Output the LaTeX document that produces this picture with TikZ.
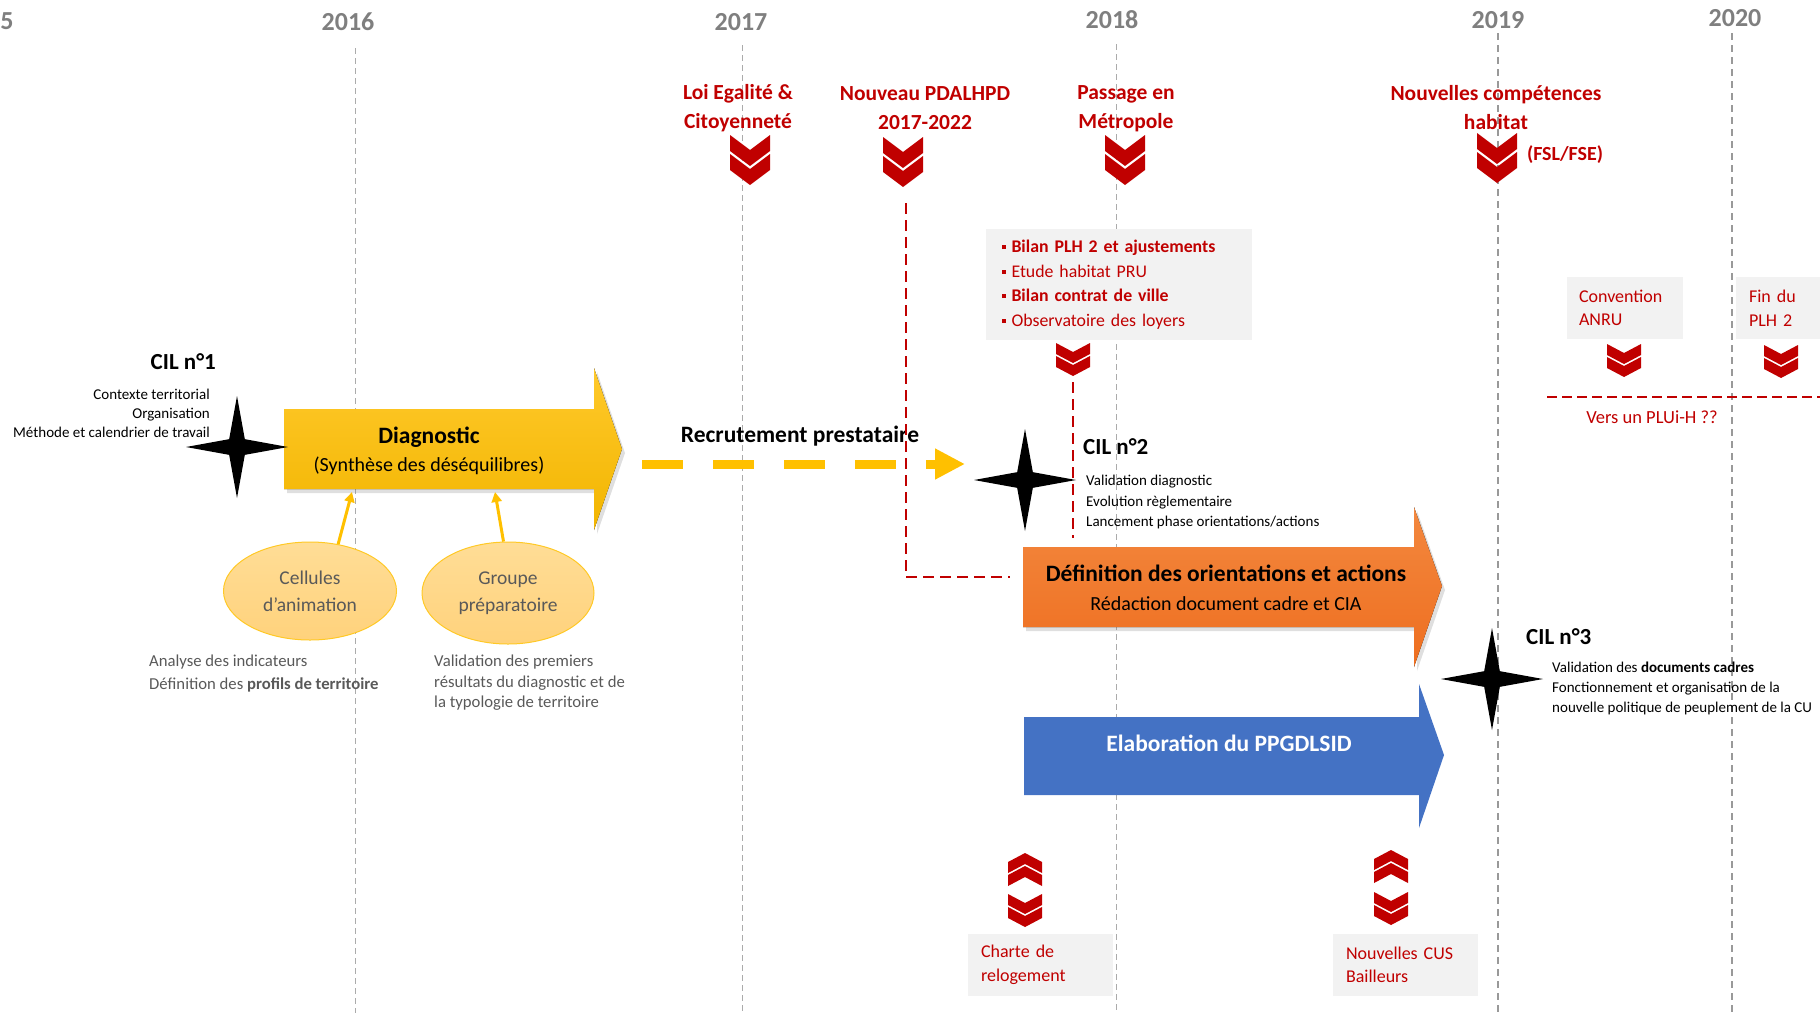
\documentclass[tikz,border=0pt]{standalone}
\usepackage{fontspec}
\setmainfont{Carlito}
\usetikzlibrary{shapes.geometric,arrows.meta,shadows}

\definecolor{darkred}{HTML}{C00000}
\definecolor{yeargray}{HTML}{7F7F7F}
\definecolor{linegray}{HTML}{ABABAB}
\definecolor{boxgray}{HTML}{F2F2F2}
\definecolor{textgray}{HTML}{595959}
\definecolor{diagyellow}{HTML}{FFC000}
\definecolor{diagtop}{HTML}{FFC92B}
\definecolor{diagbot}{HTML}{F2B500}
\definecolor{orienttop}{HTML}{F3883F}
\definecolor{orientbot}{HTML}{EE6E1F}
\definecolor{planblue}{HTML}{4472C4}
\definecolor{bubbletop}{HTML}{FFDD96}
\definecolor{bubblebot}{HTML}{FFD27C}

\newcommand{\fsz}[2]{\fontsize{#1}{#2}\selectfont}
\newcommand{\blt}{\rule[3.5pt]{4pt}{4pt}\hspace{6pt}}

\tikzset{yearline/.style={draw=linegray, line width=1pt, dash pattern=on 6pt off 4pt}}
\tikzset{redline/.style={draw=darkred, line width=2.5pt, dash pattern=on 11pt off 6pt}}
\tikzset{feed/.style={draw=diagyellow, line width=3pt, -{Triangle[length=10pt,width=10pt]}}}
\tikzset{recdash/.style={draw=diagyellow, line width=9pt, dash pattern=on 41pt off 30pt, -{Triangle[length=30pt,width=29pt]}}}
\tikzset{graybox/.style={fill=boxgray, align=left, inner xsep=13pt, inner ysep=0pt, minimum height=62pt, text=darkred, font=\fsz{18}{23.5}}}
\tikzset{cilstar/.style={star, star points=4, star point ratio=4.6, minimum size=102pt, inner sep=0pt, fill=black}}
\tikzset{bubble/.style={ellipse, draw=diagyellow!85!white, line width=1pt, top color=bubbletop, bottom color=bubblebot, text=textgray, align=center, font=\fsz{19.5}{27}}}
\tikzset{
	pics/chevs/.style n args={4}{code={
		\fill[darkred] (-#1,0) -- (0,#3) -- (#1,0) -- (#1,#2) -- (0,#2+#3) -- (-#1,#2) -- cycle;
		\fill[darkred] (-#1,#4) -- (0,#4+#3) -- (#1,#4) -- (#1,#4+#2) -- (0,#4+#2+#3) -- (-#1,#4+#2) -- cycle;
	}}
}

\begin{document}
\begin{tikzpicture}[x=1pt, y=-1pt]
	% Default action for each node
	\tikzstyle{every node}=[inner sep=0pt];
	\tikzstyle{yearlbl}=[text=yeargray, font=\fsz{26}{30}\bfseries]
	\tikzstyle{eventlbl}=[text=darkred, align=center, font=\fsz{21.5}{29}\bfseries]
	\tikzstyle{ciltitle}=[anchor=west, font=\fsz{23}{26}\bfseries]
	\tikzstyle{cildesc}=[anchor=west, align=left, font=\fsz{15}{20.5}]
	\tikzstyle{notelbl}=[anchor=west, align=left, text=textgray, font=\fsz{16.7}{23}]

	\useasboundingbox (0,0) rectangle (1820,1013);

	% YEARS
	\node[yearlbl] (yr2015) at (7,21) {5};
	\node[yearlbl] (yr2016) at (348,22) {2016};		\coordinate (yr2016 top) at (355,48);	\coordinate (yr2016 bot) at (355,1013);
	\node[yearlbl] (yr2017) at (741,22) {2017};		\coordinate (yr2017 top) at (742,45);	\coordinate (yr2017 bot) at (742,1013);
	\node[yearlbl] (yr2018) at (1112,20) {2018};	\coordinate (yr2018 top) at (1116,44);	\coordinate (yr2018 bot) at (1116,1013);
	\node[yearlbl] (yr2019) at (1498,20) {2019};	\coordinate (yr2019 top) at (1498,33);	\coordinate (yr2019 bot) at (1498,1013);
	\node[yearlbl] (yr2020) at (1735,18) {2020};	\coordinate (yr2020 top) at (1732,33);	\coordinate (yr2020 bot) at (1732,1013);

	\draw[yearline] (yr2016 top) -- (yr2016 bot);
	\draw[yearline] (yr2017 top) -- (yr2017 bot);
	\draw[yearline] (yr2018 top) -- (yr2018 bot);
	\draw[yearline, draw=yeargray!80, line width=1.6pt, dash pattern=on 7pt off 5pt] (yr2019 top) -- (yr2019 bot);
	\draw[yearline, draw=yeargray!80, line width=1.6pt, dash pattern=on 7pt off 5pt] (yr2020 top) -- (yr2020 bot);

	% EVENTS (top)
	\node[eventlbl] (loi) at (738,108) {Loi Egalité \&\\Citoyenneté};
	\node[eventlbl] (pdal) at (925,108) {Nouveau PDALHPD\\2017-2022};
	\node[eventlbl] (metro) at (1126,109) {Passage en\\Métropole};
	\node[eventlbl] (compet) at (1496,108) {Nouvelles compétences\\habitat};
	\node[eventlbl, font=\fsz{20}{24}\bfseries] (fsl) at (1565,155) {(FSL/FSE)};

	\pic at (750,135) {chevs={20}{16}{15}{19}};
	\pic at (903,137) {chevs={20}{16}{15}{19}};
	\pic at (1125,135) {chevs={20}{16}{15}{19}};
	\pic at (1497,133) {chevs={20}{16}{15}{19}};

	% BOXES
	\node[graybox, text width=234pt, inner xsep=16pt, minimum height=111pt, font=\fsz{17.8}{24.5}] (bilan) at (1118.5,284.5)
		{\blt\textbf{Bilan PLH 2 et ajustements}\\\blt Etude habitat PRU\\\blt\textbf{Bilan contrat de ville}\\\blt Observatoire des loyers};
	\node[graybox, text width=92pt, inner xsep=12pt] (conv) at (1625,308) {Convention\\ANRU};
	\node[graybox, text width=58pt] (findu) at (1778,308) {Fin du\\PLH 2};
	\node[graybox, text width=119pt] (charte) at (1040.5,965) {Charte de\\relogement};
	\node[graybox, text width=119pt] (cus) at (1405.5,965) {Nouvelles CUS\\Bailleurs};

	\pic at (1073,343) {chevs={17}{11}{9}{13}};
	\pic at (1624,344) {chevs={17}{11}{9}{13}};
	\pic at (1781,345) {chevs={17}{11}{9}{13}};

	\pic[yscale=-1] at (1025,886) {chevs={17}{11}{9}{13}};
	\pic at (1025,894) {chevs={17}{11}{9}{13}};
	\pic[yscale=-1] at (1391,883) {chevs={17}{11}{9}{13}};
	\pic at (1391,892) {chevs={17}{11}{9}{13}};

	% BIG ARROWS
	\fill[top color=diagtop, bottom color=diagbot, drop shadow={opacity=0.25, shadow xshift=3pt, shadow yshift=-4pt}]
		(284,409) -- (594,409) -- (594,368) -- (622,449) -- (594,530) -- (594,489) -- (284,489) -- cycle;
	\fill[top color=orienttop, bottom color=orientbot, drop shadow={opacity=0.25, shadow xshift=3pt, shadow yshift=-4pt}]
		(1023,547) -- (1414,547) -- (1414,507) -- (1442,586) -- (1414,667) -- (1414,627) -- (1023,627) -- cycle;
	\fill[planblue]
		(1024,717) -- (1419,717) -- (1419,684) -- (1444,755) -- (1419,828) -- (1419,795) -- (1024,795) -- cycle;

	\node[align=center, font=\fsz{20}{28}] (diag) at (429,451) {{\fsz{23.5}{28}\bfseries Diagnostic}\\(Synthèse des déséquilibres)};
	\node[align=center, font=\fsz{20}{29}] (orient) at (1226,588) {{\fsz{23.5}{29}\bfseries Définition des orientations et actions}\\Rédaction document cadre et CIA};
	\node[text=white, font=\fsz{23.5}{26}\bfseries] (plan) at (1229,743) {Elaboration du PPGDLSID};

	\coordinate (diag in1) at (352,492);
	\coordinate (diag in2) at (495,492);
	\coordinate (orient west) at (1010,577);
	\coordinate (orient top) at (1073,538);

	% RECRUTEMENT
	\coordinate (rec start) at (642,464);	\coordinate (rec end) at (965,464);
	\draw[recdash] (rec start) -- (rec end);
	\node[font=\fsz{23.5}{26}\bfseries] (rec) at (800,436) {Recrutement prestataire};

	% Red dashed links
	\coordinate (pdal foot) at (906,203);
	\coordinate (bilan foot) at (1073,382);
	\coordinate (plui west) at (1547,397);	\coordinate (plui east) at (1820,397);
	\draw[redline] (pdal foot) |- (orient west);
	\draw[redline] (bilan foot) -- (orient top);
	\draw[redline, dash pattern=on 10pt off 5pt] (plui west) -- (plui east);
	\node[text=darkred, font=\fsz{18.5}{22}] (plui) at (1652,417) {Vers un PLUi-H ??};

	% CIL
	\node[cilstar] (cil1) at (237,447) {};
	\node[cilstar] (cil2) at (1025,480) {};
	\node[cilstar] (cil3) at (1492,679) {};

	\node[ciltitle, anchor=east] (cil1 title) at (216,362) {CIL n°1};
	\node[cildesc, anchor=east, align=right, font=\fsz{15}{19}] (cil1 desc) at (210,413)
		{Contexte territorial\\Organisation\\Méthode et calendrier de travail};
	\node[ciltitle] (cil2 title) at (1083,447) {CIL n°2};
	\node[cildesc] (cil2 desc) at (1086,502)
		{Validation diagnostic\\Evolution règlementaire\\Lancement phase orientations/actions};
	\node[ciltitle] (cil3 title) at (1526,637) {CIL n°3};
	\node[cildesc, font=\fsz{15}{20}] (cil3 desc) at (1552,688)
		{Validation des \textbf{documents cadres}\\Fonctionnement et organisation de la\\nouvelle politique de peuplement de la CU};

	% BUBBLES
	\node[bubble, minimum width=173pt, minimum height=98pt] (cell) at (310,591) {Cellules\\d’animation};
	\node[bubble, minimum width=172pt, minimum height=102pt] (grp) at (508,593) {Groupe\\préparatoire};

	\draw[feed] (cell.59) -- (diag in1);
	\draw[feed] (grp.95) -- (diag in2);

	\node[notelbl] (cell note) at (149,674) {Analyse des indicateurs\\Définition des \textbf{profils de territoire}};
	\node[notelbl, font=\fsz{16.7}{20.5}] (grp note) at (434,683) {Validation des premiers\\résultats du diagnostic et de\\la typologie de territoire};
\end{tikzpicture}
\end{document}
